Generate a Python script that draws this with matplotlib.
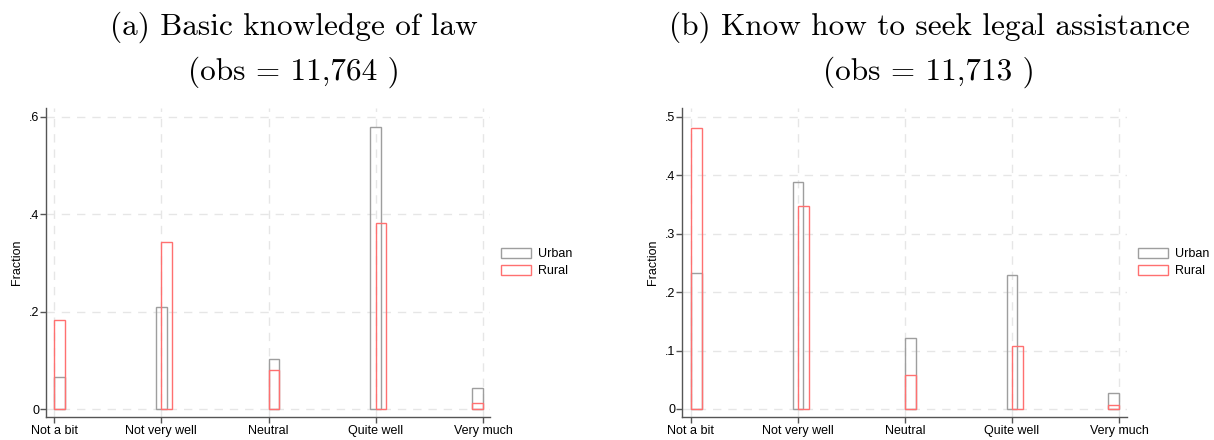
import numpy as np
import matplotlib
matplotlib.use("Agg")
import matplotlib.pyplot as plt

# categories and fractions
categories = ["Not a bit", "Not very well", "Neutral", "Quite well", "Very much"]
law_urban = [0.065, 0.210, 0.102, 0.578, 0.044]
law_rural = [0.182, 0.343, 0.081, 0.381, 0.013]
help_urban = [0.233, 0.388, 0.122, 0.229, 0.028]
help_rural = [0.481, 0.348, 0.058, 0.107, 0.007]

titles = ["(a) Basic knowledge of law", "(b) Know how to seek legal assistance"]
obs = ["(obs = 11,764 )", "(obs = 11,713 )"]

# bar placement (Stata discrete histogram look)
urban_off = [0, -0.05, 0, -0.05, -0.1]
rural_off = [0, 0, 0, 0, -0.1]
bar_w = 0.1

plt.rcParams['font.family'] = ['Liberation Sans', 'DejaVu Sans']

fig = plt.figure(figsize=(12.14, 4.40), dpi=100)
W, H = 1214, 440

panels = [
    dict(urban=law_urban, rural=law_rural, px=(46, 490), ylim=(-0.0164, 0.618),
         xlim=(0.9254, 5.065), yticks=[0, .2, .4, .6], ylabels=["0", ".2", ".4", ".6"],
         tx=294),
    dict(urban=help_urban, rural=help_rural, px=(682, 1127), ylim=(-0.0137, 0.515),
         xlim=(0.916, 5.075), yticks=[0, .1, .2, .3, .4, .5],
         ylabels=["0", ".1", ".2", ".3", ".4", ".5"], tx=929),
]

gray = "#9e9e9e"
red = "#ff7070"
x = np.arange(1, len(categories) + 1)

for i, p in enumerate(panels):
    x0, x1 = p['px']
    ax = fig.add_axes([x0 / W, (H - 417) / H, (x1 - x0) / W, 309 / H])
    ax.bar(x + np.array(urban_off), p['urban'], width=bar_w, align='edge',
           facecolor='none', edgecolor=gray, lw=1.0, label="Urban", zorder=3)
    ax.bar(x + np.array(rural_off), p['rural'], width=bar_w, align='edge',
           facecolor='none', edgecolor=red, lw=1.0, label="Rural", zorder=4)
    ax.set_xlim(*p['xlim'])
    ax.set_ylim(*p['ylim'])
    ax.set_xticks(x)
    ax.set_xticklabels(categories, fontsize=9)
    ax.set_yticks(p['yticks'])
    ax.set_yticklabels(p['ylabels'], fontsize=9)
    ax.set_ylabel("Fraction", fontsize=9, labelpad=4)
    ax.grid(True, color="#e6e6e6", ls=(0, (6, 5)), lw=1.0, zorder=0)
    for s in ['top', 'right']:
        ax.spines[s].set_visible(False)
    for s in ['left', 'bottom']:
        ax.spines[s].set_color("#555555")
        ax.spines[s].set_linewidth(1.0)
    ax.tick_params(colors="#555555", labelcolor="black", length=4, width=1.0)
    ax.tick_params(axis='x', pad=1.8)
    ax.tick_params(axis='y', pad=1.0)
    ax.legend(loc='center left', bbox_to_anchor=(1.024, 0.5), frameon=False,
              fontsize=9, handlelength=2.4, handleheight=0.88,
              handletextpad=0.6, labelspacing=0.35, borderpad=0,
              borderaxespad=0)

    fig.text(p['tx'] / W, 1 - 27 / H, titles[i], family='cmr10', fontsize=22.5,
             ha='center', va='center')
    fig.text(p['tx'] / W, 1 - 72 / H, obs[i], family='cmr10', fontsize=22.5,
             ha='center', va='center')

fig.savefig("out.png", dpi=100)
